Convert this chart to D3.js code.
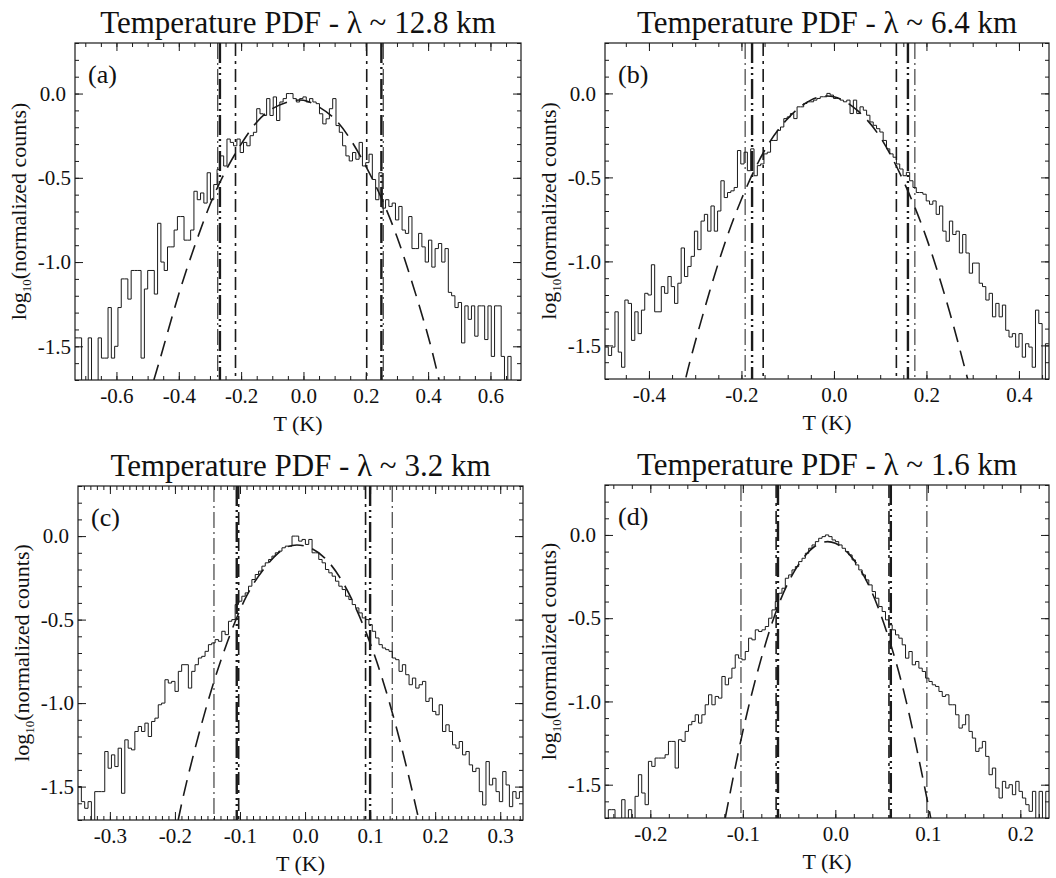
<!DOCTYPE html>
<html>
<head>
<meta charset="utf-8">
<script src="https://cdn.jsdelivr.net/npm/d3@7/dist/d3.min.js"></script>
<style>
  body { margin: 0; background: #fff; }
  text { font-family: "Liberation Serif", "Times New Roman", serif; fill: #111; }
</style>
</head>
<body>
<div id="chart"></div>
<script>
const width = 1056;
const height = 878;

// ---- data ----
const panelLabels = ["(a)", "(b)", "(c)", "(d)"];
const titles = [
  "Temperature PDF - \u03bb ~ 12.8 km",
  "Temperature PDF - \u03bb ~ 6.4 km",
  "Temperature PDF - \u03bb ~ 3.2 km",
  "Temperature PDF - \u03bb ~ 1.6 km"
];
const xDomains = [[-0.733, 0.698], [-0.495, 0.465], [-0.349, 0.335], [-0.249, 0.231]];
const yDomain = [-1.7, 0.3];

const xMajorTicks = [
  [-0.6, -0.4, -0.2, 0.0, 0.2, 0.4, 0.6],
  [-0.4, -0.2, 0.0, 0.2, 0.4],
  [-0.3, -0.2, -0.1, 0.0, 0.1, 0.2, 0.3],
  [-0.2, -0.1, 0.0, 0.1, 0.2]
];
const xMinorStep = [0.05, 0.05, 0.01, 0.02];
const yMajorTicks = [-1.5, -1.0, -0.5, 0.0];
const yMinorStep = 0.1;

// histogram: first bin edge, bin width, log10 counts (null = empty bin)
const histStart = [-0.733, -0.495, -0.349, -0.249];
const binWidth = [0.0106, 0.00716, 0.00514, 0.00361];

const histA = [
  -1.45, -1.45, null, null, -1.45, null, null, -1.45, -1.57, -1.57,
  -1.27, -1.57, -1.50, -1.27, -1.10, -1.10, -1.22, -1.05, -1.05, -1.05,
  -1.57, -1.16, -1.05, -1.05, -1.19, -0.77, -1.00, -1.05, -0.91, -0.91,
  -0.81, -0.73, -0.73, -0.87, -0.87, -0.81, -0.58, -0.63, -0.59, -0.65,
  -0.47, -0.63, -0.54, -0.45, -0.37, -0.43, -0.27, -0.29, -0.31, -0.27,
  -0.35, -0.29, -0.31, -0.25, -0.23, -0.09, -0.12, -0.13, -0.03, -0.13,
  -0.02, -0.16, -0.05, -0.03, 0.00, 0.00, -0.03, -0.05, -0.03, -0.02,
  -0.05, -0.03, -0.05, -0.06, -0.12, -0.18, -0.15, -0.09, -0.03, -0.19,
  -0.23, -0.31, -0.37, -0.40, -0.35, -0.39, -0.29, -0.43, -0.41, -0.36,
  -0.51, -0.63, -0.47, -0.68, -0.63, -0.67, -0.65, -0.75, -0.67, -0.81,
  -0.83, -0.73, -0.92, -0.92, -0.83, -0.91, -1.00, -0.87, -1.03, -0.92,
  -0.89, -1.00, -0.92, -1.18, -1.20, -1.27, -1.24, -1.48, -1.26, -1.34,
  -1.26, -1.44, -1.26, -1.26, -1.46, -1.26, -1.56, -1.26, -1.26, -1.56,
  null, -1.56, null, null, null
];

const histB = [
  -1.51, -1.56, -1.51, -1.30, -1.54, -1.63, -1.23, -1.25, -1.47, -1.30,
  -1.43, -1.29, -1.19, -1.20, -1.02, -1.30, -1.30, -1.15, -1.19, -1.09,
  -1.15, -1.25, -1.13, -0.92, -1.09, -1.03, -0.97, -0.82, -0.93, -0.76,
  -0.72, -0.82, -0.67, -0.82, -0.70, -0.52, -0.62, -0.59, -0.58, -0.56,
  -0.34, -0.42, -0.35, -0.46, -0.33, -0.49, -0.43, -0.42, -0.36, -0.35,
  -0.28, -0.28, -0.22, -0.20, -0.15, -0.14, -0.12, -0.15, -0.08, -0.08,
  -0.06, -0.05, -0.05, -0.04, -0.03, -0.02, -0.02, 0.00, -0.01, -0.03,
  -0.03, -0.04, -0.05, -0.04, -0.12, -0.04, -0.12, -0.08, -0.10, -0.13,
  -0.17, -0.19, -0.21, -0.23, -0.28, -0.33, -0.36, -0.38, -0.42, -0.45,
  -0.49, -0.47, -0.52, -0.56, -0.59, -0.59, -0.60, -0.64, -0.66, -0.64,
  -0.72, -0.67, -0.82, -0.88, -0.76, -0.84, -0.82, -0.95, -0.84, -0.95,
  -1.07, -1.01, -1.01, -1.13, -1.15, -1.23, -1.19, -1.33, -1.25, -1.33,
  -1.26, -1.41, -1.45, -1.43, -1.51, -1.43, -1.57, -1.49, -1.51, -1.63,
  -1.29, -1.37, null, -1.49
];

const histC = [
  -1.50, -1.59, -1.63, -1.59, null, -1.53, -1.53, -1.53, -1.29, -1.39,
  -1.31, -1.38, -1.27, -1.54, -1.22, -1.27, -1.28, -1.17, -1.14, -1.17,
  -1.12, -1.20, -1.11, -1.09, -1.01, -1.00, -0.86, -0.88, -0.87, -0.93,
  -0.81, -0.77, -0.77, -0.91, -0.81, -0.77, -0.73, -0.72, -0.69, -0.65,
  -0.64, -0.62, -0.63, -0.57, -0.59, -0.51, -0.50, -0.41, -0.39, -0.36,
  -0.34, -0.30, -0.26, -0.23, -0.21, -0.18, -0.16, -0.14, -0.12, -0.10,
  -0.09, -0.07, -0.06, -0.06, 0.00, 0.00, -0.03, -0.02, -0.05, -0.02,
  -0.10, -0.10, -0.14, -0.16, -0.20, -0.22, -0.24, -0.27, -0.30, -0.32,
  -0.36, -0.38, -0.41, -0.43, -0.46, -0.49, -0.50, -0.53, -0.57, -0.61,
  -0.65, -0.67, -0.68, -0.69, -0.73, -0.74, -0.81, -0.77, -0.83, -0.89,
  -0.85, -0.91, -0.89, -0.87, -0.99, -0.97, -1.05, -1.07, -1.01, -1.17,
  -1.13, -1.17, -1.25, -1.27, -1.23, -1.31, -1.29, -1.37, -1.41, -1.39,
  -1.53, -1.61, -1.35, -1.49, -1.45, -1.53, -1.59, -1.41, -1.49, -1.62,
  -1.53, -1.57, -1.53
];

const histD = [
  null, -1.65, -1.65, null, null, -1.59, null, -1.65, null, -1.57,
  -1.44, -1.55, -1.62, -1.36, -1.39, -1.34, -1.34, -1.34, -1.32, -1.24,
  -1.24, -1.40, -1.23, -1.24, -1.18, -1.14, -1.12, -1.08, -1.13, -1.08,
  -1.02, -0.96, -1.02, -0.97, -0.98, -0.85, -0.90, -0.86, -0.80, -0.72,
  -0.74, -0.75, -0.70, -0.62, -0.63, -0.57, -0.58, -0.57, -0.55, -0.50,
  -0.45, -0.40, -0.35, -0.32, -0.26, -0.24, -0.21, -0.19, -0.16, -0.14,
  -0.11, -0.08, -0.06, -0.04, -0.02, -0.01, 0.00, -0.01, -0.03, -0.04,
  -0.06, -0.08, -0.10, -0.12, -0.15, -0.18, -0.21, -0.24, -0.27, -0.30,
  -0.34, -0.38, -0.43, -0.46, -0.51, -0.54, -0.57, -0.60, -0.62, -0.66,
  -0.74, -0.70, -0.78, -0.76, -0.80, -0.82, -0.86, -0.88, -0.90, -0.91,
  -0.94, -0.97, -0.96, -1.02, -1.02, -1.08, -1.16, -1.14, -1.08, -1.18,
  -1.22, -1.30, -1.28, -1.24, -1.33, -1.44, -1.40, -1.52, -1.58, -1.48,
  -1.52, -1.50, -1.56, -1.48, -1.54, -1.58, -1.62, -1.66, -1.54, null,
  -1.54, null, -1.54
];

const fitXA = [-0.48, -0.45, -0.40, -0.35, -0.30, -0.25, -0.20, -0.15, -0.10, -0.05, 0.00, 0.05, 0.10, 0.15, 0.20, 0.25, 0.30, 0.35, 0.40, 0.435];
const fitYA = [-1.70, -1.51, -1.19, -0.91, -0.66, -0.46, -0.30, -0.17, -0.09, -0.05, -0.04, -0.08, -0.15, -0.27, -0.43, -0.62, -0.85, -1.13, -1.44, -1.70];
const fitXB = [-0.32, -0.30, -0.25, -0.20, -0.15, -0.10, -0.05, 0.00, 0.05, 0.10, 0.15, 0.20, 0.25, 0.29];
const fitYB = [-1.69, -1.48, -1.01, -0.63, -0.34, -0.15, -0.04, -0.02, -0.10, -0.26, -0.52, -0.86, -1.30, -1.71];
const fitXC = [-0.195, -0.18, -0.15, -0.12, -0.09, -0.06, -0.03, 0.00, 0.03, 0.06, 0.09, 0.12, 0.15, 0.175];
const fitYC = [-1.70, -1.44, -1.00, -0.64, -0.36, -0.18, -0.07, -0.06, -0.13, -0.29, -0.54, -0.87, -1.29, -1.70];
const fitXD = [-0.119, -0.10, -0.08, -0.06, -0.04, -0.02, 0.00, 0.02, 0.04, 0.06, 0.08, 0.10, 0.103];
const fitYD = [-1.70, -1.18, -0.74, -0.40, -0.18, -0.06, -0.05, -0.15, -0.35, -0.66, -1.08, -1.61, -1.70];

// vertical marker lines (T in K)
const dashDotT = [[-0.218, 0.203], [-0.153, 0.135], [-0.102, 0.093], [-0.064, 0.058]];
const thickT   = [[-0.268, 0.250], [-0.177, 0.160], [-0.105, 0.100], [-0.062, 0.060]];
const outerT   = [[-0.275, 0.256], [-0.192, 0.175], [-0.140, 0.134], [-0.102, 0.099]];

const hists = [histA, histB, histC, histD];
const fitX = [fitXA, fitXB, fitXC, fitXD];
const fitY = [fitYA, fitYB, fitYC, fitYD];

// ---- layout ----
const boxes = [
  { l: 75,  r: 521,  t: 43,  b: 380 },
  { l: 605, r: 1049, t: 43,  b: 379 },
  { l: 78,  r: 523,  t: 486, b: 820 },
  { l: 605, r: 1049, t: 485, b: 818 }
];

const svg = d3.select('#chart')
  .append('svg')
  .attr('width', width)
  .attr('height', height);

const fmt = d => d.toFixed(1);
const ink = '#1a1a1a';

boxes.forEach((bx, p) => {
  const x = d3.scaleLinear().domain(xDomains[p]).range([bx.l, bx.r]);
  const y = d3.scaleLinear().domain(yDomain).range([bx.b, bx.t]);
  const g = svg.append('g');

  g.append('clipPath').attr('id', 'clip' + p)
    .append('rect')
    .attr('x', bx.l).attr('y', bx.t)
    .attr('width', bx.r - bx.l).attr('height', bx.b - bx.t);

  // minor ticks
  const xMinor = d3.range(Math.ceil(xDomains[p][0] / xMinorStep[p]), Math.floor(xDomains[p][1] / xMinorStep[p]) + 1)
    .map(k => +(k * xMinorStep[p]).toFixed(4));
  const yMinor = d3.range(-17, 4).map(k => +(k * yMinorStep).toFixed(2));

  const axes = [
    [d3.axisBottom(x).tickValues(xMinor).tickSize(-4).tickFormat(''), `translate(0,${bx.b})`],
    [d3.axisTop(x).tickValues(xMinor).tickSize(-4).tickFormat(''), `translate(0,${bx.t})`],
    [d3.axisLeft(y).tickValues(yMinor).tickSize(-4).tickFormat(''), `translate(${bx.l},0)`],
    [d3.axisRight(y).tickValues(yMinor).tickSize(-4).tickFormat(''), `translate(${bx.r},0)`],
    [d3.axisBottom(x).tickValues(xMajorTicks[p]).tickSize(-8).tickPadding(8).tickFormat(fmt), `translate(0,${bx.b})`],
    [d3.axisTop(x).tickValues(xMajorTicks[p]).tickSize(-8).tickFormat(''), `translate(0,${bx.t})`],
    [d3.axisLeft(y).tickValues(yMajorTicks).tickSize(-8).tickPadding(4).tickFormat(fmt), `translate(${bx.l},0)`],
    [d3.axisRight(y).tickValues(yMajorTicks).tickSize(-8).tickFormat(''), `translate(${bx.r},0)`]
  ];
  axes.forEach(([ax, tr], k) => {
    const a = g.append('g').attr('transform', tr).call(ax.tickSizeOuter(0));
    a.select('.domain').remove();
    a.selectAll('line').attr('stroke', ink).attr('stroke-width', 1);
    a.selectAll('text').attr('font-size', 21).attr('fill', ink)
      .style('font-family', '"Liberation Serif", serif');
    // IDL pads non-negative y labels where the minus sign would be
    if (k === 6) a.selectAll('text').attr('dx', d => d >= 0 ? -5 : 0);
  });

  // frame
  g.append('rect')
    .attr('x', bx.l).attr('y', bx.t)
    .attr('width', bx.r - bx.l).attr('height', bx.b - bx.t)
    .attr('fill', 'none').attr('stroke', ink).attr('stroke-width', 1.2);

  const plot = g.append('g').attr('clip-path', `url(#clip${p})`);

  // histogram
  const vals = hists[p];
  const pts = vals.map((v, i) => [histStart[p] + i * binWidth[p], v]);
  pts.push([histStart[p] + vals.length * binWidth[p], vals[vals.length - 1]]);
  const step = d3.line()
    .x(d => x(d[0]))
    .y(d => d[1] == null ? y(-2.2) : y(d[1]))
    .curve(d3.curveStepAfter);
  plot.append('path')
    .attr('d', step(pts))
    .attr('fill', 'none').attr('stroke', ink).attr('stroke-width', 1);

  // gaussian fit
  const fit = d3.line()
    .x(d => x(d[0])).y(d => y(d[1]))
    .curve(d3.curveNatural);
  plot.append('path')
    .attr('d', fit(fitX[p].map((t, i) => [t, fitY[p][i]])))
    .attr('fill', 'none').attr('stroke', ink)
    .attr('stroke-width', 1.6).attr('stroke-dasharray', '16,9');

  // vertical markers
  const vline = (vals, w, dash) => plot.selectAll(null)
    .data(vals).enter().append('line')
    .attr('x1', d => x(d)).attr('x2', d => x(d))
    .attr('y1', y(yDomain[1])).attr('y2', y(yDomain[0]))
    .attr('stroke', ink).attr('stroke-width', w).attr('stroke-dasharray', dash);
  vline(outerT[p], 1, '16,4,2,4');
  vline(thickT[p], 2.4, '20,4,2,4,2,4');
  vline(dashDotT[p], 1.6, '13,5,3,5');

  // title and labels
  g.append('text')
    .attr('x', (bx.l + bx.r) / 2).attr('y', bx.t - 10)
    .attr('text-anchor', 'middle').attr('font-size', 31)
    .text(titles[p]);

  g.append('text')
    .attr('x', bx.l + 13).attr('y', bx.t + 40)
    .attr('font-size', 26)
    .text(panelLabels[p]);

  g.append('text')
    .attr('x', (bx.l + bx.r) / 2).attr('y', bx.b + 51)
    .attr('text-anchor', 'middle').attr('font-size', 22)
    .text('T (K)');

  const yl = g.append('text')
    .attr('transform', `translate(${bx.l - 49},${(bx.t + bx.b) / 2}) rotate(-90)`)
    .attr('text-anchor', 'middle').attr('font-size', 22);
  yl.append('tspan').text('log');
  yl.append('tspan').attr('font-size', 13).attr('dy', 5).text('10');
  yl.append('tspan').attr('dy', -5).text('(normalized counts)');
});
</script>
</body>
</html>
